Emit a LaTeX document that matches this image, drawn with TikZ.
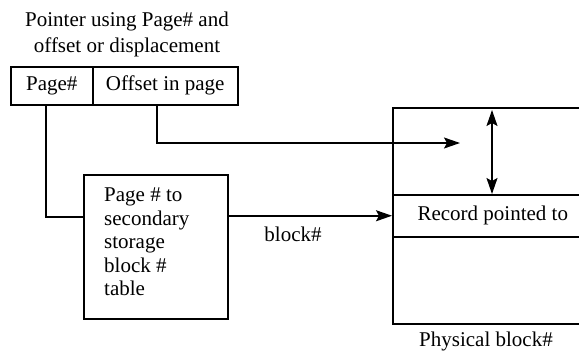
\documentclass[tikz,border=0pt]{standalone}
\usepackage{fontspec}
\setmainfont{Liberation Serif}
\usetikzlibrary{arrows.meta}
\begin{document}
\begin{tikzpicture}[x=1pt,y=-1pt,
  box/.style={draw, line width=1.5pt, inner sep=0pt, anchor=north west},
  lbl/.style={inner sep=0pt, font=\fontsize{21}{23.5}\selectfont},
  wire/.style={line width=1.5pt},
  arr/.style={wire, -{Stealth[length=16pt,width=11pt,inset=3pt]}},
  darr/.style={wire, {Stealth[length=16pt,width=11pt,inset=3pt]}-{Stealth[length=16pt,width=11pt,inset=3pt]}}]
\useasboundingbox (0,0) rectangle (579,354);
\clip (0,0) rectangle (579,354);

% caption of the pointer
\node[lbl, align=center] (title) at (127,34)
  {Pointer using Page\# and\\[2.5pt]offset or displacement};

% the pointer: page number and offset
\node[box, lbl, minimum width=82, minimum height=38] (page) at (10,66) {Page\#};
\node[box, lbl, minimum width=145, minimum height=38] (offset) at (92,66) {Offset in page};

% page-to-block translation table
\node[box, minimum width=144, minimum height=144] (table) at (83,174) {};
\node[lbl, align=left, anchor=north west] (tabletext) at (104,188)
  {Page \# to\\secondary\\storage\\block \#\\table};

% physical block with the addressed record
\node[box, minimum width=200, minimum height=87] (upper) at (392,107) {};
\node[box, lbl, minimum width=200, minimum height=42] (record) at (392,194) {Record pointed to};
\node[box, minimum width=200, minimum height=87] (lower) at (392,236) {};
\node[lbl] (phys) at (486,341) {Physical block\#};

% connectors
\coordinate (pagefoot) at (46,104);
\coordinate (offfoot) at (157,104);
\coordinate (offtip) at (460,143);
\coordinate (spantop) at (492,110);
\coordinate (spanbot) at (492,194);

\draw[wire] (pagefoot) |- ([yshift=30pt]table.west);
\draw[arr] (offfoot) |- (offtip);
\draw[darr] (spantop) -- (spanbot);
\draw[arr] (record.west -| table.east) -- (record.west);
\node[lbl] (blk) at (293,234) {block\#};
\end{tikzpicture}
\end{document}
